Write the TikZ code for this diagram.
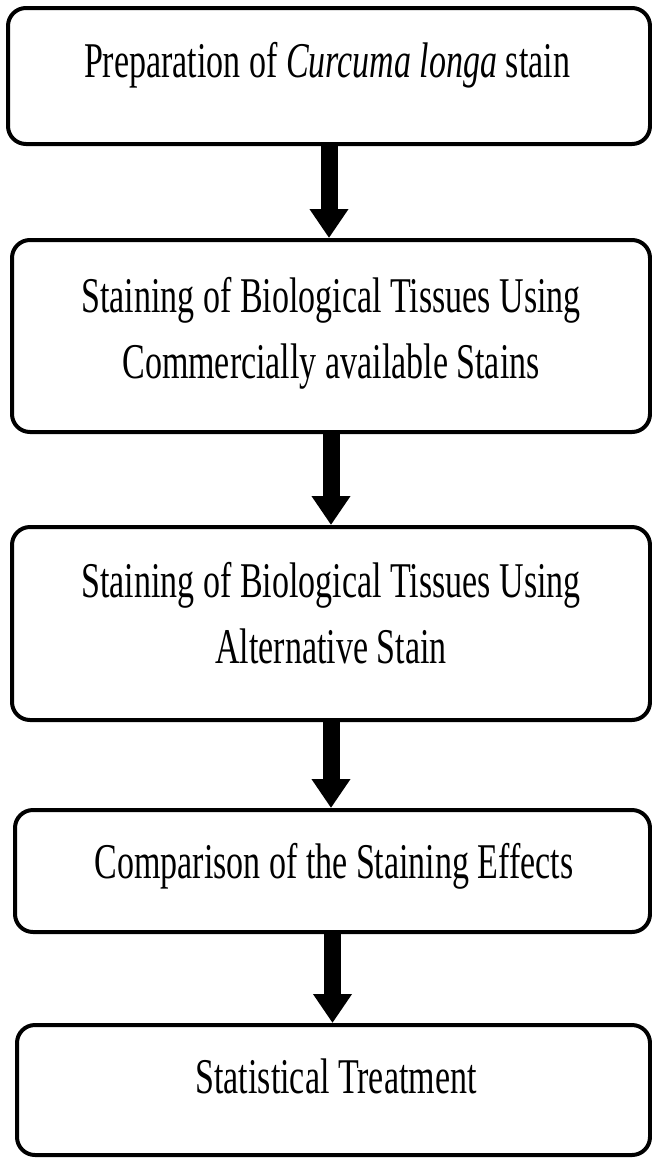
\documentclass[tikz,border=0pt]{standalone}
\usepackage{fontspec}
\setmainfont{Liberation Serif}[FakeStretch=0.68]
\usetikzlibrary{arrows.meta}
\tikzset{
  stagebox/.style={
    draw,
    line width=2pt,
    rounded corners=9pt,
    inner sep=0pt
  },
  stagetext/.style={
    font=\fontsize{25}{33}\selectfont,
    align=center,
    inner sep=0pt,
    anchor=base
  },
  stagearrow/.style={
    line width=8.5pt,
    -{Triangle[width=18.5pt,length=14.5pt]}
  }
}

\begin{document}
\begin{tikzpicture}[x=0.5pt,y=-0.5pt]
  \useasboundingbox (0,0) rectangle (652,1158);

  \node[stagebox, minimum width=321pt, minimum height=68pt] (box1) at (329,76) {};
  \node[stagebox, minimum width=319pt, minimum height=96pt] (box2) at (331,336) {};
  \node[stagebox, minimum width=319pt, minimum height=96.5pt] (box3) at (331,623.5) {};
  \node[stagebox, minimum width=317.5pt, minimum height=61pt] (box4) at (332.5,871) {};
  \node[stagebox, minimum width=316.5pt, minimum height=65pt] (box5) at (333.5,1090) {};

  \node[stagetext] (text1) at (327,77) {Preparation of \textit{Curcuma longa} stain};
  \node[stagetext] (text2) at (331,378) {Staining of Biological Tissues Using\\Commercially available Stains};
  \node[stagetext] (text3) at (331,663) {Staining of Biological Tissues Using\\Alternative Stain};
  \node[stagetext] (text4) at (334,878) {Comparison of the Staining Effects};
  \node[stagetext] (text5) at (336,1093) {Statistical Treatment};

  \draw[stagearrow] (box1.south) -- (box1.south |- box2.north);
  \draw[stagearrow] (box2.south) -- (box2.south |- box3.north);
  \draw[stagearrow] (box3.south) -- (box3.south |- box4.north);
  \draw[stagearrow] (box4.south) -- (box4.south |- box5.north);
\end{tikzpicture}
\end{document}
